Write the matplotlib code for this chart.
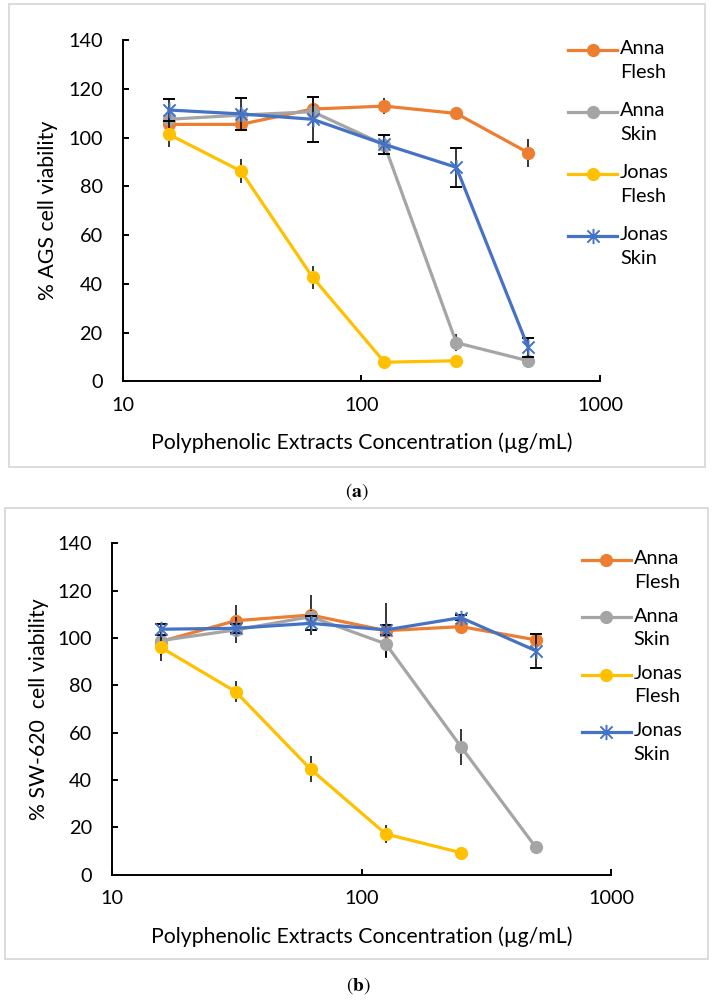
import numpy as np
import matplotlib
matplotlib.use("Agg")
import matplotlib.pyplot as plt
from matplotlib.path import Path
from matplotlib.lines import Line2D
from matplotlib.patches import Rectangle

plt.rcParams['font.family'] = ['Lato', 'DejaVu Sans']
plt.rcParams['mathtext.fontset'] = 'stix'

# ---------------- data ----------------
conc = [15.625, 31.25, 62.5, 125, 250, 500]
series_names = ["Anna\nFlesh", "Anna\nSkin", "Jonas\nFlesh", "Jonas\nSkin"]
series_colors = ["#ED7D31", "#A5A5A5", "#FFC000", "#4472C4"]

# Panel (a): AGS
ags_anna_flesh = [105.4, 105.4, 111.7, 112.9, 109.9, 93.8]
ags_anna_flesh_err = [1.5, 2.3, 5.3, 3.4, 1.5, 5.7]
ags_anna_skin = [107.5, 109.2, 110.6, 97.0, 15.9, 8.5]
ags_anna_skin_err = [2.5, 2.5, 3.0, 4.0, 3.6, 1.5]
ags_jonas_flesh = [101.3, 86.3, 42.7, 7.9, 8.5, np.nan]
ags_jonas_flesh_err = [5.1, 4.8, 4.6, 0.5, 0.5, np.nan]
ags_jonas_skin = [111.3, 109.7, 107.5, 97.2, 87.8, 14.0]
ags_jonas_skin_err = [4.5, 6.7, 9.2, 3.8, 8.0, 3.8]

# Panel (b): SW-620
sw_anna_flesh = [98.5, 107.3, 109.7, 103.1, 104.8, 99.2]
sw_anna_flesh_err = [3.0, 6.6, 8.5, 11.5, 1.5, 2.5]
sw_anna_skin = [98.9, 103.4, 109.0, 97.5, 54.1, 11.5]
sw_anna_skin_err = [6.0, 5.6, 3.0, 5.6, 7.6, 2.7]
sw_jonas_flesh = [96.1, 77.3, 44.5, 17.2, 9.3, np.nan]
sw_jonas_flesh_err = [6.0, 4.4, 5.5, 4.0, 0.5, np.nan]
sw_jonas_skin = [103.7, 104.1, 106.2, 103.4, 108.6, 94.6]
sw_jonas_skin_err = [2.3, 2.0, 3.0, 2.0, 1.0, 7.2]

y_ticks = [0, 20, 40, 60, 80, 100, 120, 140]
x_ticks = [10, 100, 1000]
x_label = "Polyphenolic Extracts Concentration (µg/mL)"

# ---------------- figure ----------------
W, H = 714, 1001
fig = plt.figure(figsize=(W / 100, H / 100), dpi=100)

TICK_FS = 14.3
LABEL_FS = 15.3
LEG_FS = 14.3

def fx(px):
    return px / W

def fy(py):
    return 1 - py / H

# star marker (X with a vertical bar)
star = Path([(-1, -1), (1, 1), (-1, 1), (1, -1), (0, -1.25), (0, 1.25)],
            [Path.MOVETO, Path.LINETO, Path.MOVETO, Path.LINETO, Path.MOVETO, Path.LINETO])
markers = ['o', 'o', 'o', star]

def border(x0, y0, x1, y1):
    fig.add_artist(Rectangle((fx(x0), fy(y1)), fx(x1) - fx(x0), fy(y0) - fy(y1),
                             transform=fig.transFigure, fill=False,
                             edgecolor="#D9D9D9", linewidth=1.3))

def style(m, c):
    if m is star:
        return dict(marker=m, markersize=11, markerfacecolor='none',
                    markeredgecolor=c, markeredgewidth=1.4)
    return dict(marker=m, markersize=9.5, markerfacecolor=c,
                markeredgecolor=c, markeredgewidth=0)

def panel(box, vals, errs, ylabel, ylab_x, xlab_y, leg_x0, leg_y0, leg_pitch):
    x0, y0, x1, y1 = box
    ax = fig.add_axes([fx(x0), fy(y1), fx(x1) - fx(x0), fy(y0) - fy(y1)])
    for i, (v, e) in enumerate(zip(vals, errs)):
        c = series_colors[i]
        ax.errorbar(conc, v, yerr=e, color=c, linewidth=2.3,
                    ecolor='black', elinewidth=1.1, capsize=4.0, capthick=1.1,
                    zorder=3 + i, **style(markers[i], c))
    ax.set_xscale('log')
    ax.set_xlim(10, 1000)
    ax.set_ylim(0, 140)
    ax.set_xticks(x_ticks)
    ax.set_xticklabels([str(t) for t in x_ticks])
    ax.minorticks_off()
    ax.set_yticks(y_ticks)
    for s in ['top', 'right']:
        ax.spines[s].set_visible(False)
    for s in ['left', 'bottom']:
        ax.spines[s].set_linewidth(1.4)
        ax.spines[s].set_color('black')
    ax.tick_params(axis='both', direction='in', length=4.5, width=1.4,
                   labelsize=TICK_FS, colors='black')
    ax.tick_params(axis='x', pad=11)
    ax.tick_params(axis='y', pad=14.5)
    # axis titles
    fig.text(fx(ylab_x), fy((y0 + y1) / 2), ylabel, rotation=90, fontsize=LABEL_FS,
             ha='center', va='center')
    fig.text(fx((x0 + x1) / 2), fy(xlab_y), x_label, fontsize=LABEL_FS,
             ha='center', va='center')
    # legend
    for i in range(4):
        c = series_colors[i]
        yy = leg_y0 + i * leg_pitch
        ln = Line2D([fx(leg_x0), fx(leg_x0 + 24.5), fx(leg_x0 + 49)], [fy(yy)] * 3,
                    transform=fig.transFigure, color=c, linewidth=2.3,
                    markevery=[1], **style(markers[i], c))
        fig.add_artist(ln)
        fig.text(fx(leg_x0 + 52), fy(yy - 9.5), series_names[i], fontsize=LEG_FS,
                 va='top', ha='left', linespacing=1.45)
    return ax

# panel (a)
border(9.3, 4, 705, 466.7)
ax1 = panel((122.7, 40, 600, 381.5),
            [ags_anna_flesh, ags_anna_skin, ags_jonas_flesh, ags_jonas_skin],
            [ags_anna_flesh_err, ags_anna_skin_err, ags_jonas_flesh_err, ags_jonas_skin_err],
            "% AGS cell viability", 48.3, 443, 568, 50, 62)
fig.text(fx(357), fy(491.7), r"$(\mathbf{a})$", ha='center', va='center', fontsize=14)

# panel (b)
border(5, 508.3, 708, 959.3)
ax2 = panel((112.3, 543.3, 611, 874.7),
            [sw_anna_flesh, sw_anna_skin, sw_jonas_flesh, sw_jonas_skin],
            [sw_anna_flesh_err, sw_anna_skin_err, sw_jonas_flesh_err, sw_jonas_skin_err],
            "% SW-620  cell viability", 39.3, 936.7, 581.7, 560, 57.3)
fig.text(fx(358), fy(986), r"$(\mathbf{b})$", ha='center', va='center', fontsize=14)

fig.savefig("out.png", dpi=100)
